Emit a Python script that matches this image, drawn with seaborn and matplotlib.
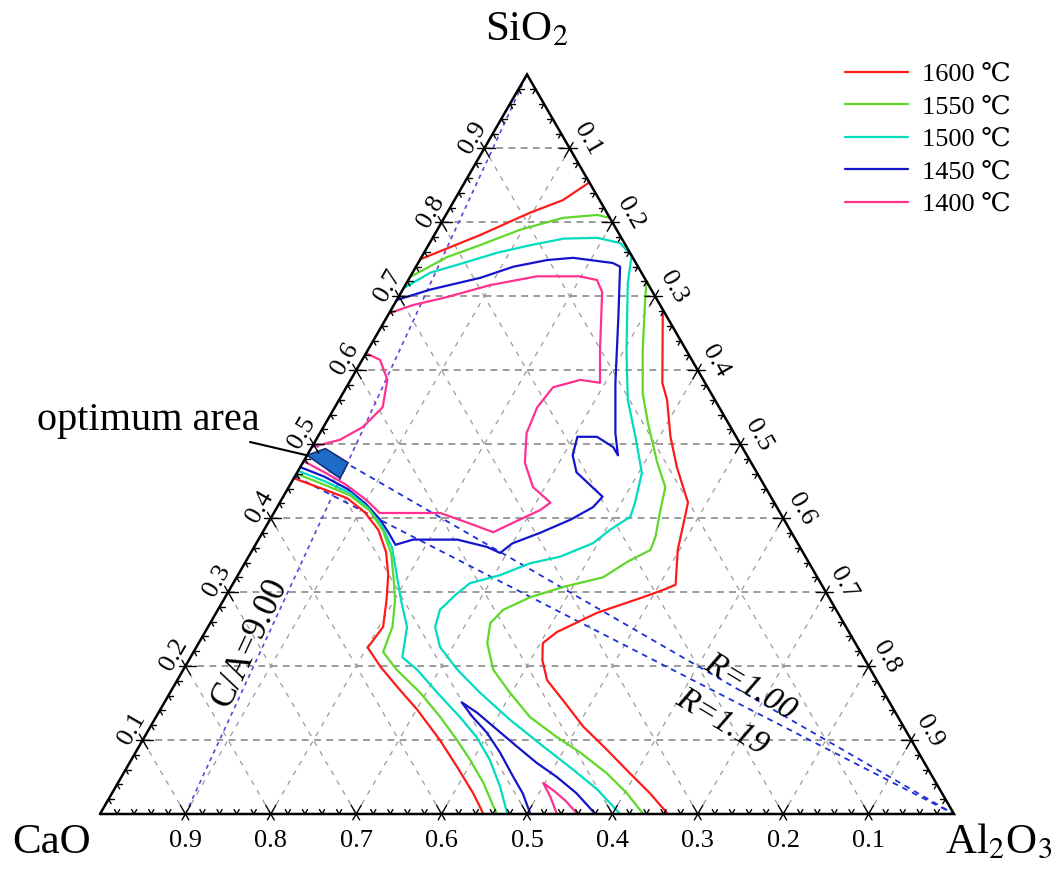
import numpy as np
import pandas as pd
import seaborn as sns
import matplotlib.pyplot as plt
from matplotlib.lines import Line2D

# Isotherms, as (SiO2, Al2O3) mass fractions
red_top_si = [0.750, 0.783, 0.813, 0.830, 0.854]
red_top_al = [0.000, 0.054, 0.097, 0.127, 0.146]
red_right_si = [0.682, 0.583, 0.560, 0.510, 0.469, 0.421, 0.402, 0.357, 0.310, 0.303, 0.293,
                0.272, 0.246, 0.231, 0.208, 0.181, 0.154, 0.118, 0.087, 0.055, 0.028, 0.000]
red_right_al = [0.318, 0.367, 0.384, 0.413, 0.441, 0.478, 0.484, 0.498, 0.519, 0.508, 0.489,
                0.446, 0.412, 0.403, 0.414, 0.433, 0.465, 0.507, 0.550, 0.593, 0.630, 0.665]
red_left_si = [0.454, 0.441, 0.427, 0.408, 0.384, 0.354, 0.323, 0.289, 0.253, 0.225, 0.199,
               0.172, 0.141, 0.100, 0.064, 0.028, 0.000]
red_left_al = [0.000, 0.037, 0.076, 0.106, 0.134, 0.158, 0.176, 0.191, 0.205, 0.201, 0.229,
               0.262, 0.301, 0.348, 0.386, 0.423, 0.449]

green_top_si = [0.726, 0.753, 0.769, 0.790, 0.806, 0.810, 0.806]
green_top_al = [0.000, 0.030, 0.060, 0.097, 0.139, 0.177, 0.194]
green_right_si = [0.720, 0.699, 0.627, 0.569, 0.529, 0.475, 0.442, 0.407, 0.375, 0.357, 0.341,
                  0.320, 0.307, 0.293, 0.276, 0.258, 0.231, 0.195, 0.164, 0.131, 0.104, 0.083,
                  0.055, 0.028, 0.000]
green_right_al = [0.280, 0.289, 0.322, 0.351, 0.377, 0.415, 0.441, 0.452, 0.463, 0.466, 0.447,
                  0.429, 0.389, 0.357, 0.334, 0.328, 0.338, 0.363, 0.398, 0.438, 0.483, 0.521,
                  0.566, 0.603, 0.636]
green_left_si = [0.460, 0.446, 0.431, 0.410, 0.383, 0.352, 0.316, 0.289, 0.253, 0.219, 0.195,
                 0.164, 0.131, 0.100, 0.073, 0.042, 0.012, 0.000]
green_left_al = [0.000, 0.038, 0.077, 0.111, 0.140, 0.165, 0.186, 0.201, 0.216, 0.222, 0.250,
                 0.293, 0.333, 0.368, 0.397, 0.428, 0.454, 0.465]

cyan_main_si = [0.711, 0.732, 0.745, 0.759, 0.769, 0.778, 0.779, 0.772, 0.755, 0.718, 0.627,
                0.560, 0.510, 0.461, 0.421, 0.402, 0.384, 0.366, 0.348, 0.339, 0.323, 0.312,
                0.296, 0.276, 0.253, 0.226, 0.195, 0.164, 0.127, 0.091, 0.060, 0.033, 0.000]
cyan_main_al = [0.000, 0.021, 0.053, 0.086, 0.119, 0.154, 0.193, 0.223, 0.245, 0.259, 0.303,
                0.338, 0.372, 0.404, 0.416, 0.420, 0.405, 0.394, 0.365, 0.334, 0.307, 0.277,
                0.268, 0.260, 0.266, 0.285, 0.321, 0.363, 0.417, 0.474, 0.524, 0.566, 0.609]
cyan_left_si = [0.464, 0.450, 0.434, 0.414, 0.389, 0.360, 0.323, 0.289, 0.253, 0.212, 0.195,
                0.164, 0.131, 0.104, 0.073, 0.037, 0.000]
cyan_left_al = [0.000, 0.038, 0.076, 0.107, 0.136, 0.162, 0.186, 0.208, 0.233, 0.248, 0.274,
                0.313, 0.356, 0.389, 0.420, 0.450, 0.477]

blue_main_si = [0.695, 0.709, 0.725, 0.740, 0.749, 0.752, 0.745, 0.740, 0.672, 0.583, 0.515,
                0.485, 0.496, 0.510, 0.510, 0.485, 0.462, 0.429, 0.415, 0.398, 0.380, 0.366,
                0.353, 0.361, 0.371, 0.371, 0.364, 0.381, 0.398, 0.419, 0.439, 0.456, 0.469]
blue_main_al = [0.000, 0.032, 0.083, 0.114, 0.149, 0.178, 0.228, 0.239, 0.271, 0.312, 0.346,
                0.364, 0.353, 0.327, 0.304, 0.311, 0.327, 0.374, 0.370, 0.352, 0.325, 0.300,
                0.292, 0.273, 0.233, 0.181, 0.164, 0.147, 0.129, 0.102, 0.071, 0.035, 0.000]
blue_wedge_si = [0.000, 0.028, 0.050, 0.083, 0.110, 0.131, 0.151, 0.137, 0.114, 0.091, 0.069,
                 0.050, 0.028, 0.000]
blue_wedge_al = [0.504, 0.481, 0.459, 0.427, 0.398, 0.371, 0.348, 0.373, 0.408, 0.443, 0.477,
                 0.510, 0.544, 0.580]

pink_main_si = [0.677, 0.688, 0.699, 0.715, 0.727, 0.727, 0.722, 0.706, 0.627, 0.583, 0.587,
                0.577, 0.550, 0.515, 0.475, 0.442, 0.421, 0.411, 0.394, 0.381, 0.394, 0.407,
                0.407, 0.407, 0.425, 0.446, 0.462, 0.477]
pink_main_al = [0.000, 0.022, 0.057, 0.099, 0.148, 0.198, 0.221, 0.235, 0.272, 0.294, 0.269,
                0.242, 0.237, 0.242, 0.260, 0.286, 0.317, 0.310, 0.287, 0.270, 0.233, 0.195,
                0.156, 0.124, 0.099, 0.064, 0.032, 0.000]
pink_bump_si = [0.623, 0.614, 0.587, 0.550, 0.523, 0.506, 0.496]
pink_bump_al = [0.000, 0.021, 0.043, 0.056, 0.046, 0.028, 0.000]
pink_wedge_si = [0.000, 0.023, 0.042, 0.030, 0.018, 0.000]
pink_wedge_al = [0.535, 0.516, 0.498, 0.518, 0.536, 0.559]

# optimum area corners
opt_si = [0.485, 0.494, 0.475, 0.454]
opt_al = [0.000, 0.017, 0.053, 0.054]

# basicity and C/A reference lines
R_values = [1.00, 1.19]
CA_value = 9.00

temps = [1600, 1550, 1500, 1450, 1400]
temp_colors = ["#ff1a1a", "#5fd82a", "#00dcc0", "#1414cc", "#ff3090"]
tick_values = [0.1, 0.2, 0.3, 0.4, 0.5, 0.6, 0.7, 0.8, 0.9]

SQ = np.sqrt(3) / 2


def proj(si, al):
    si = np.asarray(si, dtype=float)
    al = np.asarray(al, dtype=float)
    return al + si / 2, si * SQ


curves = [
    ("red_top", 1600, red_top_si, red_top_al),
    ("red_right", 1600, red_right_si, red_right_al),
    ("red_left", 1600, red_left_si, red_left_al),
    ("green_top", 1550, green_top_si, green_top_al),
    ("green_right", 1550, green_right_si, green_right_al),
    ("green_left", 1550, green_left_si, green_left_al),
    ("cyan_main", 1500, cyan_main_si, cyan_main_al),
    ("cyan_left", 1500, cyan_left_si, cyan_left_al),
    ("blue_main", 1450, blue_main_si, blue_main_al),
    ("blue_wedge", 1450, blue_wedge_si, blue_wedge_al),
    ("pink_main", 1400, pink_main_si, pink_main_al),
    ("pink_bump", 1400, pink_bump_si, pink_bump_al),
    ("pink_wedge", 1400, pink_wedge_si, pink_wedge_al),
]

rows = []
for name, t, si, al in curves:
    x, y = proj(si, al)
    for xi, yi in zip(x, y):
        rows.append({"seg": name, "temp": t, "x": xi, "y": yi})
df = pd.DataFrame(rows)

sns.set_theme(style="white")
plt.rcParams["font.family"] = ["Liberation Serif", "DejaVu Serif"]
plt.rcParams["mathtext.fontset"] = "stix"
plt.rcParams["text.color"] = "black"

fig = plt.figure(figsize=(10.58, 8.69), dpi=100)
ax = fig.add_axes([0, 0, 1, 1])
ax.set_xlim(-100 / 854, 958 / 854)
ax.set_ylim(-55 / 854, 814 / 854)
ax.axis("off")

# dashed grid
for t in tick_values:
    x, y = proj([t, t], [0, 1 - t])
    ax.plot(x, y, color="#808080", lw=1.1, ls=(0, (4.5, 3.5)), zorder=1)
    x, y = proj([0, 1 - t], [t, t])
    ax.plot(x, y, color="#9a9a9a", lw=0.9, ls=(0, (4, 5)), zorder=1)
    x, y = proj([0, 1 - t], [1 - t, 0])
    ax.plot(x, y, color="#9a9a9a", lw=0.9, ls=(0, (4, 5)), zorder=1)

# C/A and R reference lines
x, y = proj([0, 1], [1 / (CA_value + 1), 0])
ax.plot(x, y, color="#6a3fdc", lw=1.2, ls=(0, (2.5, 2.5)), zorder=2)
for r in R_values:
    x, y = proj([1 / (1 + r), 0], [0, 1])
    ax.plot(x, y, color="#1f2fd8", lw=1.3, ls=(0, (3.2, 2.8)), zorder=2)

# isotherms
palette = dict(zip(temps, temp_colors))
sns.lineplot(data=df, x="x", y="y", hue="temp", units="seg", estimator=None,
             sort=False, palette=palette, lw=1.6, legend=False, ax=ax, zorder=3)

# optimum area
ox, oy = proj(opt_si, opt_al)
ax.fill(ox, oy, facecolor="#1e6cc8", edgecolor="#14307a", lw=1.2, zorder=4)

# triangle frame
x, y = proj([0, 0, 1, 0], [0, 1, 0, 0])
ax.plot(x, y, color="black", lw=1.8, zorder=5, solid_joinstyle="miter")

# ticks
for k in range(1, 50):
    t = k * 0.02
    major = k % 5 == 0
    ln = 0.012 if major else 0.006
    out = 0.008 if major else 0.0
    sides = [
        (proj(0, t), [(0.5, SQ), (-0.5, SQ)]),
        (proj(t, 0), [(1, 0), (0.5, -SQ)]),
        (proj(t, 1 - t), [(-1, 0), (-0.5, -SQ)]),
    ]
    for (px, py), dirs in sides:
        for dx, dy in dirs:
            ax.plot([px - out * dx, px + ln * dx], [py - out * dy, py + ln * dy],
                    color="black", lw=1.0, zorder=5)

# tick labels
for v in tick_values:
    ax.text(1 - v, -0.0316, f"{v:.1f}", ha="center", va="center", fontsize=19)
    px, py = proj(v, 0)
    ax.text(px - 0.0129, py + 0.0129, f"{v:.1f}", ha="center", va="center",
            rotation=60, rotation_mode="anchor", fontsize=19)
    px, py = proj(1 - v, v)
    ax.text(px + 0.0211, py + 0.0105, f"{v:.1f}", ha="center", va="center",
            rotation=-60, rotation_mode="anchor", fontsize=19)

# corner labels
ax.text(0.5, 0.9063, r"SiO$_2$", ha="center", va="baseline", fontsize=31)
ax.text(-0.0562, -0.0457, "CaO", ha="center", va="baseline", fontsize=31)
ax.text(1.0527, -0.0457, r"Al$_2$O$_3$", ha="center", va="baseline", fontsize=31)

# annotations
ax.text(0.0562, 0.4496, "optimum area", ha="center", va="baseline", fontsize=29)
ax.plot([0.1756, 0.2425], [0.4356, 0.4200], color="black", lw=1.5, zorder=6)
ax.text(0.1756, 0.2002, "C/A=9.00", ha="center", va="center", rotation=65,
        rotation_mode="anchor", fontsize=25)
ax.text(0.761, 0.1487, "R=1.00", ha="center", va="center", rotation=-31,
        rotation_mode="anchor", fontsize=24, style="italic")
ax.text(0.7283, 0.1077, "R=1.19", ha="center", va="center", rotation=-31,
        rotation_mode="anchor", fontsize=24, style="italic")

# legend
handles = [Line2D([], [], color=c, lw=1.6) for c in temp_colors]
labels = [f"{t} ℃" for t in temps]
ax.legend(handles, labels, loc="upper left", bbox_to_anchor=(0.7987, 0.928),
          bbox_transform=fig.transFigure, frameon=False, fontsize=19,
          handlelength=2.4, handletextpad=0.5, labelspacing=0.34,
          borderpad=0, borderaxespad=0)

plt.savefig("out.png", dpi=100)
